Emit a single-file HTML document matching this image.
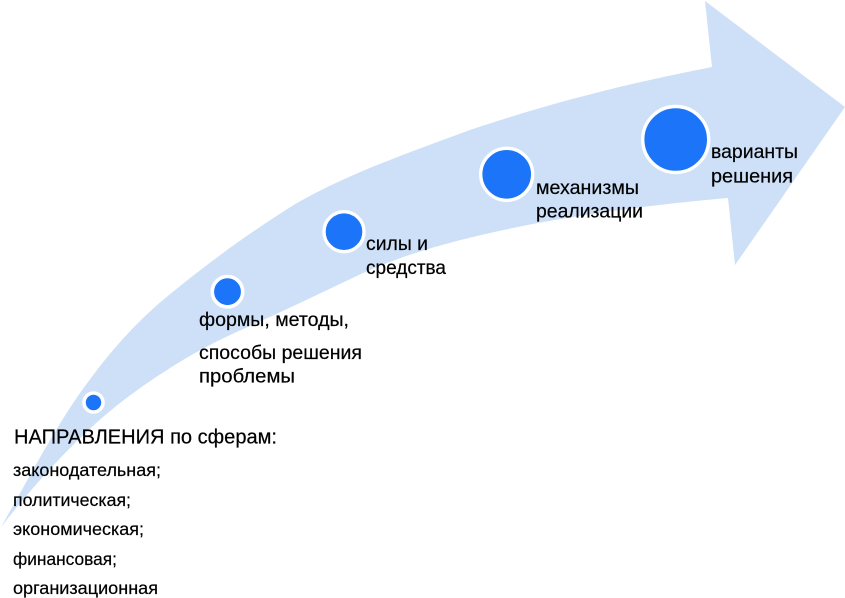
<!DOCTYPE html>
<html><head><meta charset="utf-8">
<style>
html,body{margin:0;padding:0;background:#fff;}
svg{display:block;}
text{font-family:"Liberation Sans",sans-serif;fill:#000;stroke:#000;stroke-width:0.2px;}
</style></head>
<body>
<svg width="845" height="598" viewBox="0 0 845 598" xmlns="http://www.w3.org/2000/svg">
<path fill="#cde0f8" d="M1 527 C28 480 52 433 80 393 C105 358 130 328 163 300 C205 265 250 232 297 203 C350 173 410 152 470 130 C550 103 630 83 712 67 L705 1 L845 107 L735 265 L728 198 C680 202 590 212 513 228 C460 239 410 252 363 273 C325 291 290 308 250 326 C220 339 195 352 167 370 C145 384 124 399 103 417 C65 450 30 490 1 527 Z"/>
<g fill="#1c75f8" stroke="#fff">
<circle cx="93.5" cy="402.5" r="9.5" stroke-width="3.6"/>
<circle cx="227.5" cy="291.7" r="15.2" stroke-width="3.6"/>
<circle cx="344" cy="231.7" r="20" stroke-width="3.4"/>
<circle cx="506.7" cy="174.3" r="26" stroke-width="3.4"/>
<circle cx="675.7" cy="139.5" r="33" stroke-width="3.4"/>
</g>
<g font-size="19.5">
<text x="711" y="158" textLength="87" lengthAdjust="spacingAndGlyphs">варианты</text>
<text x="711" y="182.5" textLength="82" lengthAdjust="spacingAndGlyphs">решения</text>
<text x="536" y="194" textLength="103" lengthAdjust="spacingAndGlyphs">механизмы</text>
<text x="536" y="217.5" textLength="107" lengthAdjust="spacingAndGlyphs">реализации</text>
<text x="366" y="250" textLength="62" lengthAdjust="spacingAndGlyphs">силы и</text>
<text x="366" y="274" textLength="80" lengthAdjust="spacingAndGlyphs">средства</text>
<text x="199" y="326" textLength="150" lengthAdjust="spacingAndGlyphs">формы, методы,</text>
<text x="199" y="359" textLength="163" lengthAdjust="spacingAndGlyphs">способы решения</text>
<text x="199" y="382.5" textLength="96" lengthAdjust="spacingAndGlyphs">проблемы</text>
</g>
<text x="14" y="443.7" font-size="20" textLength="263" lengthAdjust="spacingAndGlyphs">НАПРАВЛЕНИЯ по сферам:</text>
<g font-size="17.5">
<text x="13" y="476" textLength="148" lengthAdjust="spacingAndGlyphs">законодательная;</text>
<text x="13" y="506" textLength="118" lengthAdjust="spacingAndGlyphs">политическая;</text>
<text x="13" y="535" textLength="131" lengthAdjust="spacingAndGlyphs">экономическая;</text>
<text x="13" y="565" textLength="104" lengthAdjust="spacingAndGlyphs">финансовая;</text>
<text x="13" y="594" textLength="145" lengthAdjust="spacingAndGlyphs">организационная</text>
</g>
</svg>
</body></html>
